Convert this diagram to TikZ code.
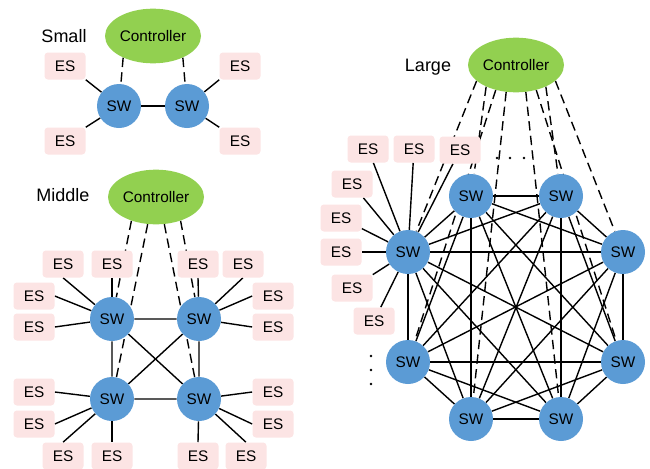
\documentclass[tikz,border=0pt]{standalone}
\usepackage{fontspec}
\setmainfont{Liberation Sans}
\usetikzlibrary{shapes.geometric,backgrounds}

\definecolor{ctrlgreen}{RGB}{146,208,80}
\definecolor{swblue}{RGB}{91,155,213}
\definecolor{espink}{RGB}{252,228,228}

\tikzset{
  ctrl/.style={ellipse, fill=ctrlgreen, minimum width=72pt, minimum height=41pt, inner sep=0pt, font=\fontsize{11.5}{13}\selectfont},
  sw/.style={circle, fill=swblue, minimum size=33pt, inner sep=0pt, font=\fontsize{11.5}{13}\selectfont},
  es/.style={rectangle, rounded corners=2.5pt, fill=espink, minimum width=30.75pt, minimum height=20.25pt, inner sep=0pt, font=\fontsize{11.5}{13}\selectfont},
  title/.style={anchor=base, font=\fontsize{13.5}{16}\selectfont},
  link/.style={black, line width=1.05pt},
  ctrllink/.style={black, line width=1.05pt, dash pattern=on 7pt off 4pt},
}

\begin{document}
\begin{tikzpicture}[x=0.75pt, y=-0.75pt]
  \useasboundingbox (0,0) rectangle (650,468);

  \node[title] (smalltitle) at (64,42) {Small};
  \node[ctrl] (sctrl) at (153,36) {Controller};
  \node[sw] (ssw1) at (119,106) {SW};
  \node[sw] (ssw2) at (187,106) {SW};
  \node[es] (ses1) at (65,66) {ES};
  \node[es] (ses2) at (240,66) {ES};
  \node[es] (ses3) at (65,141) {ES};
  \node[es] (ses4) at (240,141) {ES};

  \node[title] (middletitle) at (63,201) {Middle};
  \node[ctrl] (mctrl) at (156,197) {Controller};
  \node[sw] (mswtl) at (112,319) {SW};
  \node[sw] (mswtr) at (199,319) {SW};
  \node[sw] (mswbl) at (112,399) {SW};
  \node[sw] (mswbr) at (199,399) {SW};
  \node[es] (mes1) at (63,264) {ES};
  \node[es] (mes2) at (112,264) {ES};
  \node[es] (mes3) at (34,296) {ES};
  \node[es] (mes4) at (34,327) {ES};
  \node[es] (mes5) at (198,264) {ES};
  \node[es] (mes6) at (243,264) {ES};
  \node[es] (mes7) at (273,296) {ES};
  \node[es] (mes8) at (273,327) {ES};
  \node[es] (mes9) at (34,392) {ES};
  \node[es] (mes10) at (34,424) {ES};
  \node[es] (mes11) at (63,456) {ES};
  \node[es] (mes12) at (112,456) {ES};
  \node[es] (mes13) at (273,392) {ES};
  \node[es] (mes14) at (273,424) {ES};
  \node[es] (mes15) at (198,456) {ES};
  \node[es] (mes16) at (246,456) {ES};

  \node[title] (largetitle) at (428,71) {Large};
  \node[ctrl] (lctrl) at (516,65) {Controller};
  \node[sw] (l1) at (471,196) {SW};
  \node[sw] (l2) at (561,196) {SW};
  \node[sw] (l3) at (623,252) {SW};
  \node[sw] (l4) at (623,362) {SW};
  \node[sw] (l5) at (561,419) {SW};
  \node[sw] (l6) at (471,419) {SW};
  \node[sw] (l7) at (408,362) {SW};
  \node[sw] (l8) at (408,252) {SW};
  \node[es] (les1) at (368,149) {ES};
  \node[es] (les2) at (414,149) {ES};
  \node[es] (les3) at (460,150) {ES};
  \node[es] (les4) at (352,184) {ES};
  \node[es] (les5) at (341,218) {ES};
  \node[es] (les6) at (341,252) {ES};
  \node[es] (les7) at (352,288) {ES};
  \node[es] (les8) at (374,321) {ES};
  \foreach \dx in {497,510,524} \fill (\dx,158) circle [radius=1.1pt];
  \foreach \dy in {356,370,384} \fill (371,\dy) circle [radius=1.1pt];

  \begin{scope}[on background layer]
    \draw[link] (ssw1) -- (ssw2);
    \draw[link] (ses1.south east) -- (ssw1);
    \draw[link] (ses3.north east) -- (ssw1);
    \draw[link] (ses2.south west) -- (ssw2);
    \draw[link] (ses4.north west) -- (ssw2);
    \draw[ctrllink] (sctrl.216) -- (ssw1);
    \draw[ctrllink] (sctrl.324) -- (ssw2);

    \draw[link] (mswtl) -- (mswtr) -- (mswbr) -- (mswbl) -- (mswtl) -- (mswbr);
    \draw[link] (mswtr) -- (mswbl);
    \draw[link] (mes1.south) -- (mswtl);
    \draw[link] (mes2.south) -- (mswtl);
    \draw[link] (mes3.east) -- (mswtl);
    \draw[link] (mes4.east) -- (mswtl);
    \draw[link] (mes5.south) -- (mswtr);
    \draw[link] (mes6.south) -- (mswtr);
    \draw[link] (mes7.west) -- (mswtr);
    \draw[link] (mes8.west) -- (mswtr);
    \draw[link] (mes9.east) -- (mswbl);
    \draw[link] (mes10.east) -- (mswbl);
    \draw[link] (mes11.north) -- (mswbl);
    \draw[link] (mes12.north) -- (mswbl);
    \draw[link] (mes13.west) -- (mswbr);
    \draw[link] (mes14.west) -- (mswbr);
    \draw[link] (mes15.north) -- (mswbr);
    \draw[link] (mes16.north) -- (mswbr);
    \draw[ctrllink] (mctrl.224) -- (mswtl);
    \draw[ctrllink] (mctrl.253) -- (mswbl);
    \draw[ctrllink] (mctrl.287) -- (mswbr);
    \draw[ctrllink] (mctrl.316) -- (mswtr);

    \foreach \a [evaluate=\a as \s using int(\a+1)] in {1,...,7}
      \foreach \b in {\s,...,8}
        \draw[link] (l\a) -- (l\b);
    \foreach \e in {1,...,8}
      \draw[link] (les\e) -- (l8);
    \draw[ctrllink] (lctrl.202) -- (l8);
    \draw[ctrllink] (lctrl.216) -- (l1);
    \draw[ctrllink] (lctrl.231) -- (l7);
    \draw[ctrllink] (lctrl.250) -- (l6);
    \draw[ctrllink] (lctrl.290) -- (l5);
    \draw[ctrllink] (lctrl.309) -- (l4);
    \draw[ctrllink] (lctrl.324) -- (l2);
    \draw[ctrllink] (lctrl.338) -- (l3);
  \end{scope}
\end{tikzpicture}
\end{document}
